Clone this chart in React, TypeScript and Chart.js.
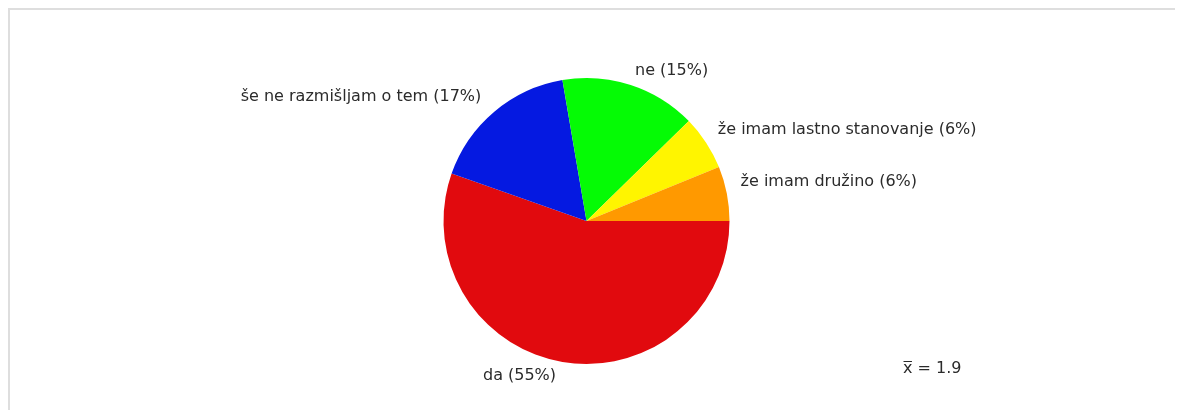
import React, { useEffect, useRef } from "react";
import { Chart, registerables } from "chart.js";

Chart.register(...registerables);

const categories = [
  "da",
  "še ne razmišljam o tem",
  "ne",
  "že imam lastno stanovanje",
  "že imam družino",
];
const counts = [36, 11, 10, 4, 4];
const colors = ["#E10A0E", "#0519E1", "#05FB05", "#FFF500", "#FF9900"];
const meanValue = 1.9;

const FONT = "16px 'DejaVu Sans', Verdana, sans-serif";
const TEXT_COLOR = "#2b2b2b";

const labelPlugin = {
  id: "outerLabels",
  afterDraw(chart: any) {
    const ctx = chart.ctx as CanvasRenderingContext2D;
    const meta = chart.getDatasetMeta(0);
    const data = chart.data.datasets[0].data as number[];
    const total = data.reduce((a, b) => a + b, 0);
    ctx.save();
    ctx.font = FONT;
    ctx.fillStyle = TEXT_COLOR;
    ctx.textBaseline = "middle";
    meta.data.forEach((arc: any, i: number) => {
      const p = arc.getProps(["x", "y", "startAngle", "endAngle", "outerRadius"], true);
      const mid = (p.startAngle + p.endAngle) / 2;
      const r = p.outerRadius + 14;
      const c = Math.cos(mid);
      const s = Math.sin(mid);
      let ax = p.x + r * c;
      const shift = c >= 0 ? 10 * Math.pow(c, 4) + 1.5 * (1 - c) : 10 * c * c;
      const ay = p.y + r * s - shift;
      const pct = Math.round((data[i] / total) * 100);
      const text = `${chart.data.labels[i]} (${pct}%)`;
      if (c >= 0) {
        ctx.textAlign = "left";
      } else {
        ctx.textAlign = "right";
        ax -= 4;
      }
      ctx.fillText(text, ax, ay);
    });

    // mean
    const area = chart.chartArea;
    const mx = area.right + 173.5;
    const my = area.bottom + 9;
    ctx.textAlign = "left";
    ctx.textBaseline = "alphabetic";
    const rest = ` = ${meanValue}`;
    ctx.fillText("x", mx, my);
    const xw = ctx.measureText("x").width;
    ctx.fillText(rest, mx + xw, my);
    ctx.strokeStyle = TEXT_COLOR;
    ctx.lineWidth = 1;
    ctx.beginPath();
    ctx.moveTo(mx + 0.5, my - 11.5);
    ctx.lineTo(mx + xw - 0.5, my - 11.5);
    ctx.stroke();
    ctx.restore();
  },
};

export default function App() {
  const ref = useRef<HTMLCanvasElement | null>(null);

  useEffect(() => {
    document.body.style.overflow = "hidden";
    if (!ref.current) return;
    const chart = new Chart(ref.current, {
      type: "pie",
      data: {
        labels: categories,
        datasets: [
          {
            data: counts,
            backgroundColor: colors,
            borderWidth: 0,
          },
        ],
      },
      options: {
        animation: false,
        responsive: false,
        rotation: 90,
        layout: {
          padding: { top: 68, bottom: 46, left: 433.5, right: 453.5 },
        },
        plugins: {
          legend: { display: false },
          tooltip: { enabled: false },
        },
      },
      plugins: [labelPlugin],
    });
    return () => chart.destroy();
  }, []);

  return (
    <div
      style={{
        position: "relative",
        width: 1190,
        height: 402,
        boxSizing: "border-box",
        borderTop: "2px solid #dedede",
        borderLeft: "2px solid #dedede",
        background: "#fff",
      }}
    >
      <canvas
        ref={ref}
        width={1173}
        height={400}
        style={{ position: "absolute", left: 0, top: 0, width: 1173, height: 400 }}
      />
    </div>
  );
}
